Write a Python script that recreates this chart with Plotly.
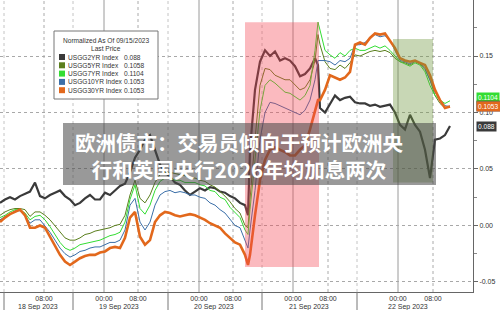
import plotly.graph_objects as go

# observation index (horizontal position of each sample in the Bloomberg intraday chart)
obs = [0,5,10,15,20,25,30,35,40,45,50,55,60,65,70,75,80,85,90,95,100,105,110,115,120,125,
       130,135,140,145,150,155,160,165,170,175,180,185,190,195,200,205,210,215,220,225,230,235,240,245,
       248,250,255,260,265,270,275,280,285,290,295,300,305,310,315,318,320,325,330,335,340,345,350,
       355,360,365,370,375,380,385,390,395,400,405,410,415,420,425,430,435,440,445,450]

usgg2yr = [0.020,0.023,0.025,0.023,0.026,0.028,0.030,0.038,0.026,0.024,0.027,0.029,0.031,0.026,0.023,0.018,0.020,0.024,0.027,0.023,0.023,0.029,0.027,0.031,0.035,0.037,
           0.047,0.060,0.067,0.076,0.080,0.067,0.054,0.047,0.043,0.038,0.036,0.031,0.027,0.030,0.033,0.031,0.034,0.033,0.030,0.029,0.026,0.024,0.020,0.018,
           0.009,0.067,0.120,0.145,0.155,0.150,0.154,0.146,0.148,0.146,0.141,0.132,0.134,0.139,0.148,0.142,0.104,0.100,0.108,0.115,0.111,0.113,0.114,
           0.109,0.108,0.108,0.106,0.107,0.105,0.106,0.107,0.100,0.089,0.085,0.098,0.089,0.083,0.067,0.042,0.076,0.077,0.080,0.088]

usgg5yr = [0.009,0.012,0.014,0.015,0.015,0.014,0.008,0.012,0.012,0.009,0.005,0.000,-0.006,-0.011,-0.013,-0.013,-0.011,-0.008,-0.007,-0.005,-0.004,-0.003,-0.002,0.000,0.001,0.009,
           0.027,0.040,0.024,0.020,0.027,0.038,0.045,0.047,0.047,0.046,0.045,0.044,0.042,0.042,0.040,0.039,0.036,0.034,0.030,0.026,0.021,0.015,0.011,0.000,
           -0.002,0.023,0.076,0.124,0.139,0.138,0.133,0.131,0.129,0.129,0.124,0.120,0.122,0.129,0.146,0.169,0.160,0.145,0.139,0.138,0.142,0.139,0.144,
           0.151,0.150,0.152,0.154,0.155,0.154,0.155,0.153,0.148,0.145,0.144,0.142,0.145,0.143,0.138,0.129,0.115,0.108,0.104,0.1058]

usgg7yr = [0.007,0.009,0.012,0.014,0.014,0.011,0.005,0.008,0.009,0.005,-0.001,-0.008,-0.015,-0.020,-0.022,-0.020,-0.017,-0.016,-0.015,-0.014,-0.013,-0.011,-0.009,-0.008,-0.006,0.003,
           0.023,0.036,0.015,0.010,0.018,0.031,0.039,0.042,0.042,0.040,0.040,0.038,0.038,0.038,0.036,0.035,0.031,0.030,0.025,0.023,0.016,0.011,0.007,-0.004,
           -0.008,0.014,0.058,0.102,0.124,0.129,0.126,0.122,0.118,0.117,0.114,0.111,0.115,0.124,0.155,0.180,0.173,0.155,0.151,0.148,0.153,0.150,0.155,
           0.157,0.155,0.155,0.157,0.159,0.157,0.159,0.155,0.150,0.145,0.143,0.141,0.144,0.142,0.136,0.124,0.115,0.111,0.108,0.1104]

usgg10yr = [0.005,0.008,0.010,0.013,0.013,0.009,0.002,0.005,0.005,0.000,-0.006,-0.013,-0.020,-0.025,-0.028,-0.026,-0.023,-0.022,-0.020,-0.019,-0.019,-0.017,-0.015,-0.015,-0.013,-0.004,
            0.018,0.024,0.003,-0.004,0.003,0.018,0.027,0.030,0.031,0.029,0.030,0.029,0.027,0.027,0.025,0.024,0.020,0.018,0.014,0.011,0.005,0.000,-0.002,-0.013,
            -0.020,-0.004,0.031,0.076,0.100,0.109,0.108,0.106,0.104,0.102,0.100,0.098,0.102,0.111,0.129,0.146,0.146,0.146,0.145,0.142,0.146,0.145,0.148,
            0.160,0.160,0.162,0.166,0.169,0.167,0.168,0.164,0.155,0.146,0.145,0.143,0.146,0.144,0.139,0.129,0.118,0.111,0.106,0.1053]

usgg30yr = [0.003,0.007,0.010,0.012,0.014,0.009,-0.002,-0.002,0.000,-0.002,-0.010,-0.017,-0.026,-0.032,-0.035,-0.032,-0.029,-0.027,-0.026,-0.026,-0.024,-0.023,-0.020,-0.019,-0.020,-0.011,
            0.007,0.012,-0.010,-0.017,-0.013,0.003,0.009,0.012,0.011,0.009,0.008,0.009,0.010,0.009,0.007,0.005,0.002,0.000,-0.002,-0.007,-0.011,-0.015,-0.017,-0.026,
            -0.035,-0.026,0.009,0.040,0.058,0.067,0.069,0.067,0.065,0.062,0.062,0.067,0.071,0.085,0.102,0.111,0.111,0.120,0.133,0.131,0.129,0.131,0.136,
            0.160,0.162,0.160,0.166,0.170,0.169,0.170,0.164,0.157,0.148,0.146,0.145,0.146,0.144,0.142,0.133,0.120,0.111,0.104,0.1053]

names = ["USGG2YR Index", "USGG5YR Index", "USGG7YR Index", "USGG10YR Index", "USGG30YR Index"]
last_price = [0.088, 0.1058, 0.1104, 0.1053, 0.1053]
last_text = ["0.088", "0.1058", "0.1104", "0.1053", "0.1053"]
colors = ["#3a3a3a", "#5b7f1e", "#33dd33", "#3b6fa8", "#e2681c"]
widths = [2.2, 1.0, 1.0, 1.0, 2.6]
series = [usgg2yr, usgg5yr, usgg7yr, usgg10yr, usgg30yr]

# x axis labels
tick_obs = [44, 104, 138, 199, 233, 293, 328, 398, 433]
tick_text = ["08:00", "00:00", "08:00", "00:00", "08:00", "00:00", "08:00", "00:00", "08:00"]
midnight_obs = [104, 199, 293, 398]
session_obs = [4, 73, 168, 262, 357]
date_obs = [38, 119, 214, 309, 408]
date_text = ["18 Sep 2023", "19 Sep 2023", "20 Sep 2023", "21 Sep 2023", "22 Sep 2023"]

y_ticks = [-0.05, 0.0, 0.05, 0.10, 0.15]
y_ticktext = ["-0.05", "0.00", "0.05", "0.10", "0.15"]

# highlighted moves
pink_box = dict(x0=245, x1=319, y0=-0.0367, y1=0.180)
green_box = dict(x0=393, x1=433, y0=0.038, y1=0.165)

title_lines = ["欧洲债市：交易员倾向于预计欧洲央", "行和英国央行2026年均加息两次"]

W, H = 500, 310
ML, MR, MT, MB = 0, 27, 0, 18
PW, PH = W - ML - MR, H - MT - MB
XR = [0, 473]
YR = [-0.0589, 0.1996]

def px(x):
    return (x - ML) / PW

def py(y):
    return 1 - (y - MT) / PH

FONT = "Liberation Sans"
LFS = 6.6

fig = go.Figure()
for s, nm, c, w in zip(series, names, colors, widths):
    fig.add_trace(go.Scatter(x=obs, y=s, mode="lines", name=nm,
                             line=dict(color=c, width=w), hoverinfo="skip"))

shapes = []
# vertical grid lines
for xv in midnight_obs:
    shapes.append(dict(type="line", xref="x", yref="paper", x0=xv, x1=xv, y0=0, y1=1,
                       line=dict(color="#9a9a9a", width=1), layer="below"))
for xv in tick_obs:
    if xv not in midnight_obs:
        shapes.append(dict(type="line", xref="x", yref="paper", x0=xv, x1=xv, y0=0, y1=1,
                           line=dict(color="#aaaaaa", width=1, dash="dot"), layer="below"))
for xv in session_obs:
    shapes.append(dict(type="line", xref="x", yref="paper", x0=xv, x1=xv, y0=0, y1=1,
                       line=dict(color="#c4c4c4", width=1, dash="dot"), layer="below"))
    shapes.append(dict(type="line", xref="x", yref="paper", x0=xv, x1=xv, y0=0, y1=-18 / PH,
                       line=dict(color="#777777", width=1), layer="above"))

# highlighted moves
shapes.append(dict(type="rect", xref="x", yref="y", line=dict(width=0),
                   fillcolor="rgba(243,68,81,0.37)", layer="above", **pink_box))
shapes.append(dict(type="rect", xref="x", yref="y", line=dict(width=0),
                   fillcolor="rgba(110,150,60,0.38)", layer="above", **green_box))

# legend box
shapes.append(dict(type="rect", xref="paper", yref="paper", x0=px(54), x1=px(158), y0=py(99), y1=py(31),
                   fillcolor="white", line=dict(color="#777777", width=1), layer="above"))

annotations = []
annotations.append(dict(xref="paper", yref="paper", x=px(106), y=py(40), text="Normalized As Of 09/15/2023",
                        showarrow=False, font=dict(family=FONT, size=LFS, color="#333"), xanchor="center", yanchor="middle"))
annotations.append(dict(xref="paper", yref="paper", x=px(106), y=py(48.5), text="Last Price",
                        showarrow=False, font=dict(family=FONT, size=LFS, color="#333"), xanchor="center", yanchor="middle"))
for i, (nm, c, lt) in enumerate(zip(names, colors, last_text)):
    yc = 57 + i * 8.3
    shapes.append(dict(type="rect", xref="paper", yref="paper", x0=px(59), x1=px(65), y0=py(yc + 3), y1=py(yc - 3),
                       fillcolor=c, line=dict(width=0), layer="above"))
    annotations.append(dict(xref="paper", yref="paper", x=px(67), y=py(yc), text=nm, showarrow=False,
                            font=dict(family=FONT, size=LFS, color="#333"), xanchor="left", yanchor="middle",
                            borderpad=0))
    annotations.append(dict(xref="paper", yref="paper", x=px(123), y=py(yc), text=lt, showarrow=False,
                            font=dict(family=FONT, size=LFS, color="#333"), xanchor="left", yanchor="middle",
                            borderpad=0))

# date labels under the time labels
for xv, t in zip(date_obs, date_text):
    annotations.append(dict(xref="x", yref="paper", x=xv, y=py(306.5), text=t, showarrow=False,
                            font=dict(family=FONT, size=7, color="#333"), xanchor="center", yanchor="middle",
                            borderpad=0))

# last-price tags on the right axis
tag_order = [2, 1, 3, 4, 0]
tag_shift = {0: 0, 1: 0, 2: 3, 3: 0, 4: 0}
for i in tag_order:
    annotations.append(dict(xref="paper", yref="y", x=px(476), y=last_price[i], text=last_text[i],
                            showarrow=False, xanchor="left", yanchor="middle", yshift=tag_shift[i],
                            bgcolor=colors[i], borderpad=1,
                            font=dict(family=FONT, size=6.6, color="white")))

# title overlay
shapes.append(dict(type="rect", xref="paper", yref="paper", x0=px(63), x1=px(436), y0=py(185), y1=py(123),
                   fillcolor="rgba(70,70,70,0.55)", line=dict(width=0), layer="above"))
annotations.append(dict(xref="paper", yref="paper", x=px(239), y=py(155),
                        text="<b>" + "<br>".join(title_lines) + "</b>",
                        showarrow=False, xanchor="center", yanchor="middle", align="center",
                        font=dict(family="Noto Sans CJK SC", size=20.5, color="white")))

fig.update_layout(
    width=W, height=H, margin=dict(l=ML, r=MR, t=MT, b=MB),
    paper_bgcolor="white", plot_bgcolor="white", showlegend=False,
    shapes=shapes, annotations=annotations,
    xaxis=dict(range=XR, tickmode="array", tickvals=tick_obs, ticktext=tick_text,
               showgrid=False, zeroline=False, showline=True, linecolor="#666", linewidth=1,
               ticks="", ticklabelstandoff=0, tickfont=dict(family=FONT, size=7, color="#333")),
    yaxis=dict(range=YR, side="right", tickmode="array", tickvals=y_ticks, ticktext=y_ticktext,
               showgrid=True, gridcolor="#a8a8a8", griddash="dot", gridwidth=1,
               zeroline=False, showline=True, linecolor="#666", linewidth=1,
               ticks="outside", ticklen=4, tickcolor="#666",
               minor=dict(tickmode="linear", tick0=0, dtick=0.025, ticks="outside", ticklen=3,
                          tickcolor="#888", showgrid=False),
               tickfont=dict(family=FONT, size=7, color="#333")),
)

fig.write_html("out.html")
